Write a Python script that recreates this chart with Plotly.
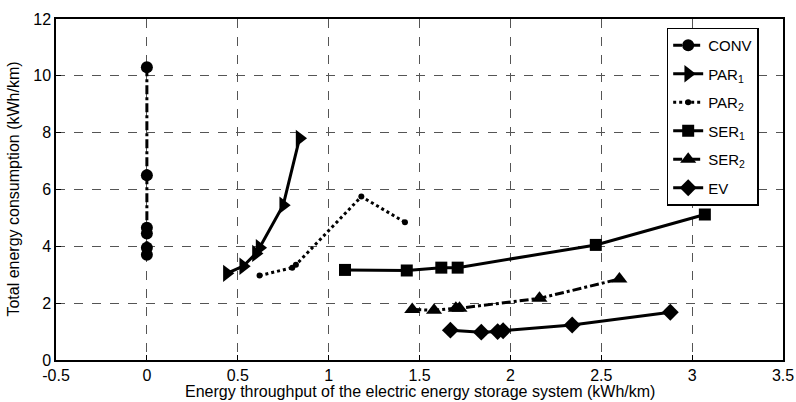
import plotly.graph_objects as go

conv_x = [0, 0, 0, 0, 0, 0]
conv_y = [10.3, 6.5, 4.65, 4.45, 3.95, 3.7]
par1_x = [0.44, 0.53, 0.60, 0.62, 0.75, 0.84]
par1_y = [3.05, 3.3, 3.75, 3.95, 5.45, 7.8]
par2_x = [0.62, 0.80, 0.82, 1.18, 1.42]
par2_y = [2.97, 3.25, 3.35, 5.75, 4.85]
ser1_x = [1.09, 1.43, 1.62, 1.71, 2.47, 3.07]
ser1_y = [3.17, 3.15, 3.25, 3.25, 4.05, 5.12]
ser2_x = [1.46, 1.58, 1.70, 1.72, 2.16, 2.60]
ser2_y = [1.78, 1.75, 1.82, 1.82, 2.17, 2.85]
ev_x = [1.67, 1.84, 1.93, 1.96, 2.34, 2.88]
ev_y = [1.05, 0.98, 1.0, 1.03, 1.23, 1.68]

names = ["CONV", "PAR<sub>1</sub>", "PAR<sub>2</sub>", "SER<sub>1</sub>", "SER<sub>2</sub>", "EV"]
xs = [conv_x, par1_x, par2_x, ser1_x, ser2_x, ev_x]
ys = [conv_y, par1_y, par2_y, ser1_y, ser2_y, ev_y]
dashes = ["dashdot", "solid", "dot", "solid", "dashdot", "solid"]
symbols = ["circle", "triangle-right", "circle", "square", "triangle-up", "diamond"]
sizes = [12, 15, 6, 12, 14, 13]

fig = go.Figure()
for i, (n, x, y, d, s, sz) in enumerate(zip(names, xs, ys, dashes, symbols, sizes)):
    fig.add_trace(go.Scatter(x=x, y=y, name=n, mode="lines+markers", legendgroup=f"g{i}",
                             line=dict(color="black", width=3, dash=d),
                             marker=dict(color="black", symbol=s, size=sz)))

axis_common = dict(showline=True, linecolor="black", linewidth=1.5, mirror=True,
                   ticks="inside", ticklen=5, tickcolor="black", automargin=False,
                   showgrid=True, gridcolor="#555", griddash="dash", gridwidth=1,
                   zeroline=False, tickfont=dict(size=16, color="black", family="Liberation Sans"))

fig.update_layout(
    width=796, height=402,
    margin=dict(l=56, r=13, t=19, b=42, autoexpand=False),
    plot_bgcolor="white", paper_bgcolor="white",
    font=dict(family="Liberation Sans", color="black", size=16),
    xaxis=dict(range=[-0.5, 3.5], tickvals=[-0.5, 0, 0.5, 1, 1.5, 2, 2.5, 3, 3.5],
               ticktext=["-0.5", "0", "0.5", "1", "1.5", "2", "2.5", "3", "3.5"],
               **axis_common),
    yaxis=dict(range=[0, 12], dtick=2, **axis_common),
    legend=dict(x=0.84, y=0.975, xanchor="left", yanchor="top",
                bordercolor="black", borderwidth=1.5, bgcolor="white",
                font=dict(size=15), tracegroupgap=6, itemwidth=30),
    showlegend=True,
    annotations=[
        dict(text="Energy throughput of the electric energy storage system (kWh/km)",
             xref="paper", yref="paper", x=0.5, y=-0.092, yanchor="middle", xanchor="center",
             showarrow=False, font=dict(size=16)),
        dict(text="Total energy consumption (kWh/km)", textangle=-90,
             xref="paper", yref="paper", x=-0.059, y=0.5, xanchor="center", yanchor="middle",
             showarrow=False, font=dict(size=16)),
    ],
)

fig.write_html("out.html")
